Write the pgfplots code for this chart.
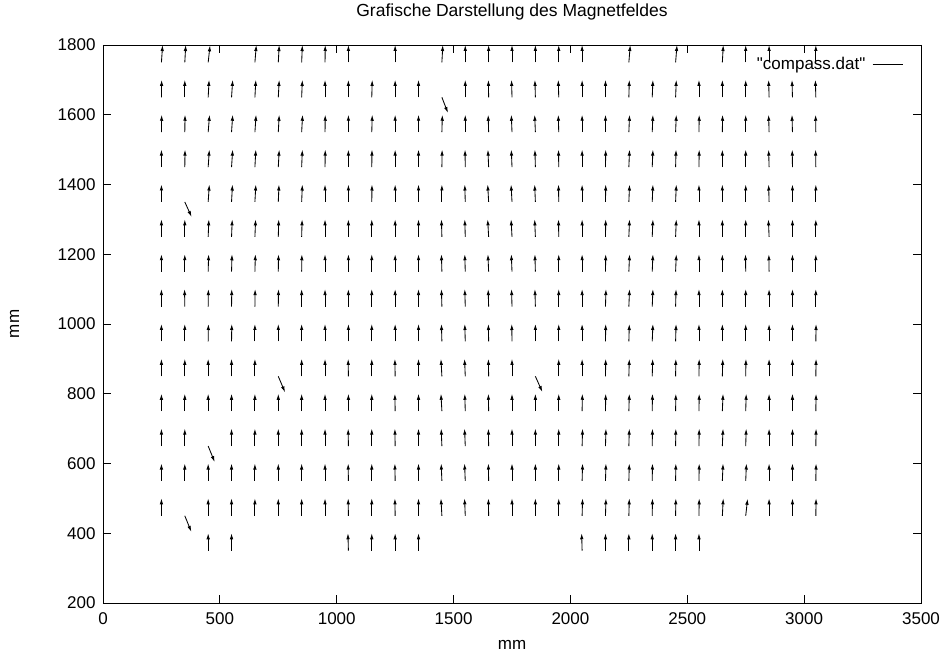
\documentclass[border=0pt]{standalone}
\usepackage{pgfplots}
\pgfplotsset{compat=1.18}
\usepackage{fontspec}
\setmainfont{Liberation Sans}
\usetikzlibrary{arrows.meta}
\begin{document}
\begin{tikzpicture}
\useasboundingbox (-103pt,-56pt) rectangle (845pt,603pt);
\begin{axis}[
  at={(0pt,0pt)}, anchor=south west,
  scale only axis, width=818pt, height=558pt,
  xmin=0, xmax=3500, ymin=200, ymax=1800,
  xtick={0,500,...,3500}, ytick={200,400,...,1800},
  scaled ticks=false,
  tick align=inside, major tick length=8pt,
  tick style={black, line width=0.8pt},
  axis line style={black, line width=0.9pt},
  /pgf/number format/assume math mode=true,
  /pgf/number format/set thousands separator={},
  font=\fontsize{17}{20}\selectfont,
  xticklabel style={font=\fontsize{17}{20}\selectfont, yshift=-6pt},
  yticklabel style={font=\fontsize{17}{20}\selectfont, xshift=-4pt},
  title={Grafische Darstellung des Magnetfeldes},
  title style={at={(axis description cs:0.5,1.048)}, anchor=center, font=\fontsize{17.5}{20}\selectfont},
  xlabel={mm}, ylabel={mm},
  xlabel style={at={(axis description cs:0.5,-0.0753)}, anchor=center, font=\fontsize{17}{20}\selectfont},
  ylabel style={at={(axis description cs:-0.108,0.5)}, anchor=center, font=\fontsize{17}{20}\selectfont},
  legend style={at={(axis description cs:0.982,0.985)}, anchor=north east, draw=none, fill=none,
    font=\fontsize{17}{20}\selectfont, legend cell align=right, column sep=5pt},
  legend plot pos=right,
]
\addplot[forget plot, black, line width=0.85pt, -{Latex[length=6pt,width=3.5pt]},
  quiver={u=\thisrow{u}, v=\thisrow{v}}]
  table[x=x, y=y, row sep=\\] {
x y u v\\
250 1750 5 50\\ 350 1750 4 50\\ 450 1750 8 49\\ 650 1750 6 50\\ 750 1750 4 50\\ 850 1750 3 50\\ 950 1750 1 50\\ 1050 1750 0 50\\ 1250 1750 0 50\\ 1450 1750 4 50\\ 1550 1750 0 50\\
1650 1750 0 50\\ 1750 1750 0 50\\ 1850 1750 0 50\\ 1950 1750 0 50\\ 2050 1750 0 50\\ 2250 1750 6 50\\ 2450 1750 6 50\\ 2650 1750 4 50\\ 2750 1750 0 50\\ 2850 1750 0 50\\ 3050 1750 0 50\\
250 1650 1 50\\ 350 1650 0 50\\ 450 1650 4 50\\ 550 1650 5 50\\ 650 1650 4 50\\ 750 1650 4 50\\ 850 1650 3 50\\ 950 1650 0 50\\ 1050 1650 0 50\\ 1150 1650 2 50\\ 1250 1650 0 50\\ 1350 1650 0 50\\ 1450 1650 26 -45\\ 1550 1650 0 50\\
1650 1650 -1 50\\ 1750 1650 -2 50\\ 1850 1650 -2 50\\ 1950 1650 -2 50\\ 2050 1650 0 50\\ 2150 1650 0 50\\ 2250 1650 2 50\\ 2350 1650 3 50\\ 2450 1650 3 50\\ 2550 1650 0 50\\ 2650 1650 0 50\\ 2750 1650 0 50\\ 2850 1650 -2 50\\ 2950 1650 -2 50\\ 3050 1650 -2 50\\
250 1550 1 50\\ 350 1550 1 50\\ 450 1550 6 50\\ 550 1550 5 50\\ 650 1550 5 50\\ 750 1550 4 50\\ 850 1550 4 50\\ 950 1550 1 50\\ 1050 1550 0 50\\ 1150 1550 2 50\\ 1250 1550 0 50\\ 1350 1550 0 50\\ 1450 1550 2 50\\ 1550 1550 0 50\\
1650 1550 -2 50\\ 1750 1550 -3 50\\ 1850 1550 -3 50\\ 1950 1550 -2 50\\ 2050 1550 0 50\\ 2150 1550 0 50\\ 2250 1550 3 50\\ 2350 1550 3 50\\ 2450 1550 3 50\\ 2550 1550 1 50\\ 2650 1550 1 50\\ 2750 1550 0 50\\ 2850 1550 -2 50\\ 2950 1550 -2 50\\ 3050 1550 -1 50\\
250 1450 0 50\\ 350 1450 1 50\\ 450 1450 5 50\\ 550 1450 5 50\\ 650 1450 4 50\\ 750 1450 4 50\\ 850 1450 3 50\\ 950 1450 1 50\\ 1050 1450 0 50\\ 1150 1450 1 50\\ 1250 1450 0 50\\ 1350 1450 0 50\\ 1450 1450 1 50\\ 1550 1450 -1 50\\
1650 1450 -3 50\\ 1750 1450 -3 50\\ 1850 1450 -2 50\\ 1950 1450 -1 50\\ 2050 1450 0 50\\ 2150 1450 1 50\\ 2250 1450 3 50\\ 2350 1450 3 50\\ 2450 1450 2 50\\ 2550 1450 1 50\\ 2650 1450 0 50\\ 2750 1450 0 50\\ 2850 1450 -2 50\\ 2950 1450 -1 50\\ 3050 1450 -1 50\\
250 1350 0 50\\ 350 1350 29 -43\\ 450 1350 5 50\\ 550 1350 4 50\\ 650 1350 4 50\\ 750 1350 3 50\\ 850 1350 3 50\\ 950 1350 0 50\\ 1050 1350 0 50\\ 1150 1350 1 50\\ 1250 1350 0 50\\ 1350 1350 0 50\\ 1450 1350 0 50\\ 1550 1350 -2 50\\
1650 1350 -4 50\\ 1750 1350 -4 50\\ 1850 1350 -3 50\\ 1950 1350 -1 50\\ 2050 1350 0 50\\ 2150 1350 1 50\\ 2250 1350 3 50\\ 2350 1350 3 50\\ 2450 1350 3 50\\ 2550 1350 0 50\\ 2650 1350 0 50\\ 2750 1350 0 50\\ 2850 1350 -2 50\\ 2950 1350 0 50\\ 3050 1350 0 50\\
250 1250 0 50\\ 350 1250 0 50\\ 450 1250 3 50\\ 550 1250 3 50\\ 650 1250 3 50\\ 750 1250 2 50\\ 850 1250 2 50\\ 950 1250 0 50\\ 1050 1250 0 50\\ 1150 1250 0 50\\ 1250 1250 0 50\\ 1350 1250 0 50\\ 1450 1250 -2 50\\ 1550 1250 -2 50\\
1650 1250 -4 50\\ 1750 1250 -4 50\\ 1850 1250 -3 50\\ 1950 1250 -1 50\\ 2050 1250 0 50\\ 2150 1250 1 50\\ 2250 1250 3 50\\ 2350 1250 3 50\\ 2450 1250 3 50\\ 2550 1250 0 50\\ 2650 1250 0 50\\ 2750 1250 0 50\\ 2850 1250 -3 50\\ 2950 1250 0 50\\ 3050 1250 0 50\\
250 1150 0 50\\ 350 1150 0 50\\ 450 1150 2 50\\ 550 1150 2 50\\ 650 1150 2 50\\ 750 1150 1 50\\ 850 1150 1 50\\ 950 1150 0 50\\ 1050 1150 0 50\\ 1150 1150 0 50\\ 1250 1150 0 50\\ 1350 1150 0 50\\ 1450 1150 -2 50\\ 1550 1150 -2 50\\
1650 1150 -3 50\\ 1750 1150 -3 50\\ 1850 1150 -2 50\\ 1950 1150 0 50\\ 2050 1150 0 50\\ 2150 1150 1 50\\ 2250 1150 3 50\\ 2350 1150 3 50\\ 2450 1150 3 50\\ 2550 1150 0 50\\ 2650 1150 0 50\\ 2750 1150 -1 50\\ 2850 1150 -1 50\\ 2950 1150 0 50\\ 3050 1150 0 50\\
250 1050 0 50\\ 350 1050 -1 50\\ 450 1050 1 50\\ 550 1050 1 50\\ 650 1050 1 50\\ 750 1050 1 50\\ 850 1050 0 50\\ 950 1050 0 50\\ 1050 1050 0 50\\ 1150 1050 0 50\\ 1250 1050 0 50\\ 1350 1050 0 50\\ 1450 1050 -2 50\\ 1550 1050 -2 50\\
1650 1050 -2 50\\ 1750 1050 -2 50\\ 1850 1050 -2 50\\ 1950 1050 0 50\\ 2050 1050 0 50\\ 2150 1050 2 50\\ 2250 1050 3 50\\ 2350 1050 3 50\\ 2450 1050 2 50\\ 2550 1050 0 50\\ 2650 1050 0 50\\ 2750 1050 0 50\\ 2850 1050 0 50\\ 2950 1050 0 50\\ 3050 1050 0 50\\
250 950 0 50\\ 350 950 0 50\\ 450 950 1 50\\ 550 950 1 50\\ 650 950 0 50\\ 750 950 0 50\\ 850 950 0 50\\ 950 950 0 50\\ 1050 950 0 50\\ 1150 950 0 50\\ 1250 950 0 50\\ 1350 950 0 50\\ 1450 950 -2 50\\ 1550 950 -2 50\\
1650 950 -1 50\\ 1750 950 -1 50\\ 1850 950 0 50\\ 1950 950 0 50\\ 2050 950 0 50\\ 2150 950 1 50\\ 2250 950 2 50\\ 2350 950 3 50\\ 2450 950 2 50\\ 2550 950 0 50\\ 2650 950 0 50\\ 2750 950 0 50\\ 2850 950 0 50\\ 2950 950 0 50\\ 3050 950 1 50\\
250 850 0 50\\ 350 850 0 50\\ 450 850 0 50\\ 550 850 0 50\\ 650 850 0 50\\ 750 850 29 -46\\ 850 850 0 50\\ 950 850 0 50\\ 1050 850 -1 50\\ 1150 850 0 50\\ 1250 850 -1 50\\ 1350 850 0 50\\ 1450 850 -4 50\\ 1550 850 -3 50\\
1650 850 -1 50\\ 1750 850 0 50\\ 1850 850 30 -45\\ 1950 850 0 50\\ 2050 850 0 50\\ 2150 850 1 50\\ 2250 850 2 50\\ 2350 850 2 50\\ 2450 850 1 50\\ 2550 850 1 50\\ 2650 850 2 50\\ 2750 850 1 50\\ 2850 850 0 50\\ 2950 850 0 50\\ 3050 850 1 50\\
250 750 0 50\\ 350 750 0 50\\ 450 750 0 50\\ 550 750 0 50\\ 650 750 0 50\\ 750 750 0 50\\ 850 750 0 50\\ 950 750 0 50\\ 1050 750 0 50\\ 1150 750 0 50\\ 1250 750 -1 50\\ 1350 750 0 50\\ 1450 750 -4 50\\ 1550 750 -2 50\\
1650 750 -1 50\\ 1750 750 0 50\\ 1850 750 0 50\\ 1950 750 0 50\\ 2050 750 1 50\\ 2150 750 1 50\\ 2250 750 2 50\\ 2350 750 1 50\\ 2450 750 1 50\\ 2550 750 1 50\\ 2650 750 3 50\\ 2750 750 2 50\\ 2850 750 0 50\\ 2950 750 0 50\\ 3050 750 1 50\\
250 650 0 50\\ 350 650 0 50\\ 450 650 28 -46\\ 550 650 0 50\\ 650 650 0 50\\ 750 650 0 50\\ 850 650 0 50\\ 950 650 0 50\\ 1050 650 -1 50\\ 1150 650 0 50\\ 1250 650 -1 50\\ 1350 650 0 50\\ 1450 650 -3 50\\ 1550 650 -3 50\\
1650 650 -1 50\\ 1750 650 0 50\\ 1850 650 0 50\\ 1950 650 0 50\\ 2050 650 2 50\\ 2150 650 2 50\\ 2250 650 2 50\\ 2350 650 1 50\\ 2450 650 1 50\\ 2550 650 1 50\\ 2650 650 3 50\\ 2750 650 2 50\\ 2850 650 0 50\\ 2950 650 0 50\\ 3050 650 1 50\\
250 550 0 50\\ 350 550 0 50\\ 450 550 0 50\\ 550 550 0 50\\ 650 550 0 50\\ 750 550 0 50\\ 850 550 0 50\\ 950 550 0 50\\ 1050 550 -1 50\\ 1150 550 0 50\\ 1250 550 -1 50\\ 1350 550 0 50\\ 1450 550 -3 50\\ 1550 550 -3 50\\
1650 550 -1 50\\ 1750 550 0 50\\ 1850 550 0 50\\ 1950 550 0 50\\ 2050 550 2 50\\ 2150 550 2 50\\ 2250 550 2 50\\ 2350 550 1 50\\ 2450 550 1 50\\ 2550 550 1 50\\ 2650 550 3 50\\ 2750 550 3 50\\ 2850 550 0 50\\ 2950 550 0 50\\ 3050 550 1 50\\
250 450 0 50\\ 350 450 28 -46\\ 450 450 0 50\\ 550 450 0 50\\ 650 450 0 50\\ 750 450 0 50\\ 850 450 0 50\\ 950 450 0 50\\ 1050 450 -1 50\\ 1150 450 0 50\\ 1250 450 -1 50\\ 1350 450 0 50\\ 1450 450 -4 50\\ 1550 450 -3 50\\
1650 450 -1 50\\ 1750 450 0 50\\ 1850 450 0 50\\ 1950 450 0 50\\ 2050 450 2 50\\ 2150 450 2 50\\ 2250 450 2 50\\ 2350 450 1 50\\ 2450 450 1 50\\ 2550 450 1 50\\ 2650 450 4 50\\ 2750 450 8 49\\ 2850 450 0 50\\ 2950 450 0 50\\ 3050 450 1 50\\
450 350 0 50\\ 550 350 0 50\\ 1050 350 -2 50\\ 1150 350 0 50\\ 1250 350 0 50\\ 1350 350 0 50\\ 2050 350 -2 50\\ 2150 350 0 50\\ 2250 350 0 50\\ 2350 350 0 50\\ 2450 350 0 50\\ 2550 350 0 50\\
};
\addlegendimage{legend image code/.code={\draw[black, line width=0.7pt] (0pt,0pt) -- (30pt,0pt);}}
\addlegendentry{\textquotedbl compass.dat\textquotedbl}
\end{axis}
\end{tikzpicture}
\end{document}
